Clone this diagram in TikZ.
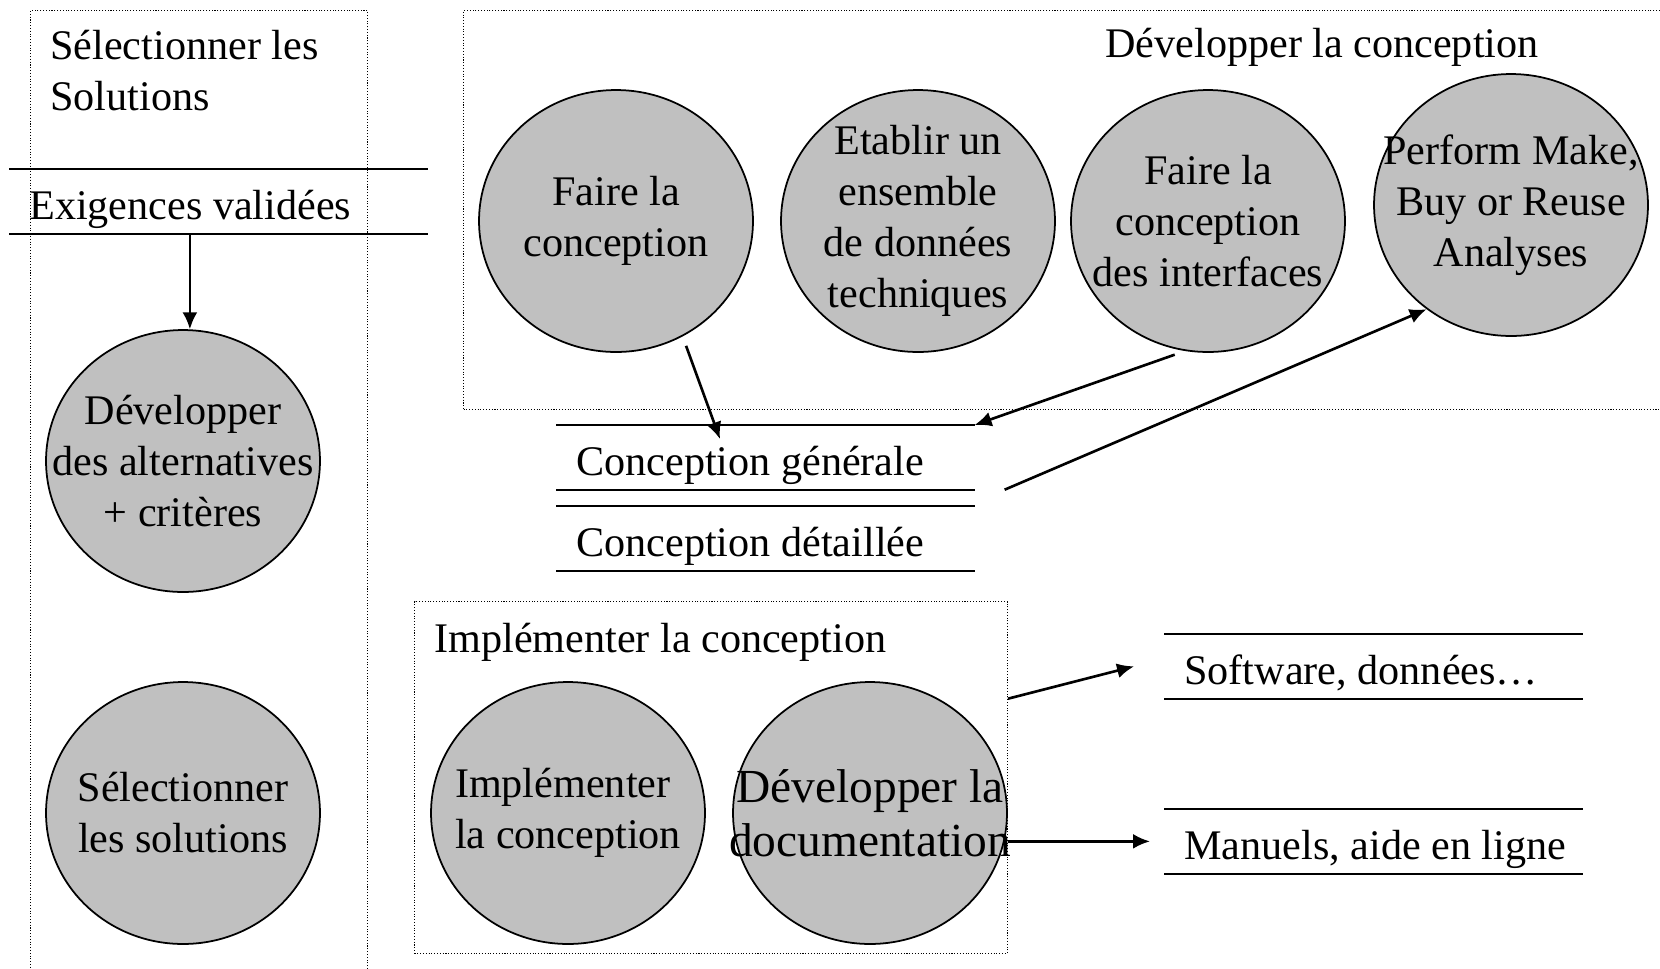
\documentclass[tikz,border=0pt]{standalone}
\usepackage{fontspec}
\setmainfont{Liberation Serif}
\usetikzlibrary{shapes.geometric}
\usetikzlibrary{arrows.meta}
\usetikzlibrary{positioning}
\definecolor{procgray}{RGB}{192,192,192}
\tikzset{>={Latex[length=0.34cm,width=0.3cm]}}
\tikzset{process/.style = {shape=ellipse,draw,line width=1pt,fill=procgray,minimum width=5.48cm,minimum height=5.24cm,inner sep=-1cm,align=center}}
\tikzset{store/.style = {anchor=north west,minimum width=8.36cm,inner xsep=0.4cm,inner ysep=0pt,text height=1cm,text depth=0.28cm,
        execute at begin node={\hbox to 7.56cm\bgroup},execute at end node={\hss\egroup}}}
\tikzset{storeline/.style = {line width=1.3pt}}
\tikzset{group/.style = {draw,densely dotted,line width=0.6pt,anchor=north west,inner sep=0pt}}
\tikzset{flow/.style = {->,line width=1.5pt}}

\begin{document}
\begin{tikzpicture}[x=0.02cm,y=-0.02cm,font=\fontsize{24}{29}\selectfont]
                \useasboundingbox (0,0) rectangle (1660,968);

                \node[group,minimum width=6.74cm,minimum height=19.8cm] (sel) at (30,10) {};
                \node[group,minimum width=24.34cm,minimum height=7.98cm] (dev) at (463,10) {};
                \node[group,minimum width=11.86cm,minimum height=7.04cm] (impl) at (414,601) {};

                \node[anchor=base west,inner sep=0pt,align=left] (seltitle) at (50,110) {Sélectionner les\\Solutions};
                \node[anchor=base west,inner sep=0pt] (devtitle) at (1105,57) {Développer la conception};
                \node[anchor=base west,inner sep=0pt] (impltitle) at (434,652) {Implémenter la conception};

                \node[store] (exig) at (9,169) {Exigences validées};
                \node[store] (gen) at (556,425) {Conception générale};
                \node[store] (det) at (556,506) {Conception détaillée};
                \node[store] (soft) at (1164,634) {Software, données…};
                \node[store] (man) at (1164,809) {Manuels, aide en ligne};
                \foreach \s in {exig,gen,det,soft,man}
                    \draw[storeline] (\s.north west) -- (\s.north east) (\s.south west) -- (\s.south east);

                \node[process] (A1) at (183,461) {Développer\\des alternatives\\+ critères};
                \node[process] (A2) at (183,813) {Sélectionner\\les solutions};
                \node[process] (B1) at (616,221) {Faire la\\conception};
                \node[process] (B2) at (918,221) {Etablir un\\ensemble\\de données\\techniques};
                \node[process] (B3) at (1208,221) {Faire la\\conception\\des interfaces};
                \node[process] (B4) at (1511,205) {Perform Make,\\Buy or Reuse\\Analyses};
                \node[process,align=left] (C1) at (568,813) {Implémenter\\la conception};
                \node[process,font=\fontsize{27}{31}\selectfont] (C2) at (870,813) {Développer la\\documentation};

                \coordinate (genin) at (720,439);

                \draw[flow] (exig.south -| A1.87) -- (A1.87);
                \draw[flow,shorten <=0.2cm] (B1.-60) -- (genin);
                \draw[flow,shorten <=0.22cm] (B3.-100) -- (gen.north east);
                \draw[flow] ([xshift=0.6cm]gen.south east) -- (B4.-129);
                \draw[flow] (impl.east |- soft.south) -- ([xshift=-0.6cm]soft.west);
                \draw[flow] (impl.east |- man.west) -- ([xshift=-0.28cm]man.west);
            \end{tikzpicture}
\end{document}
